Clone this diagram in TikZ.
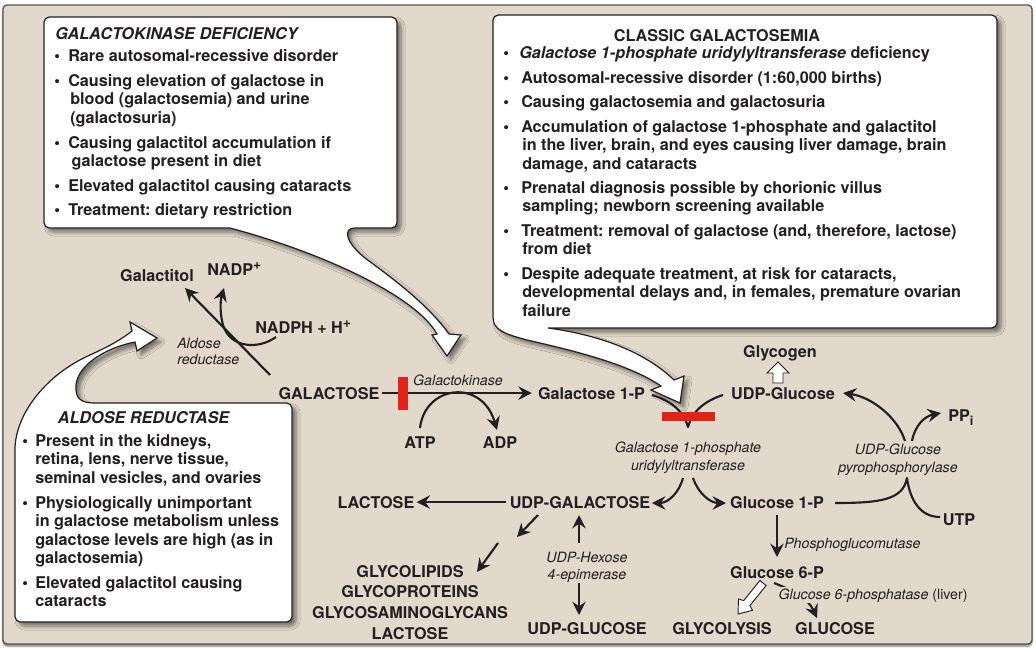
\documentclass[tikz,border=0pt]{standalone}
\usepackage{fontspec}
\setmainfont{TeX Gyre Heros}
\usetikzlibrary{arrows.meta,shadows.blur}
\definecolor{ink}{HTML}{231F20}
\definecolor{tanbg}{HTML}{E2D8CB}
\definecolor{redbar}{HTML}{E2231A}
\definecolor{framec}{HTML}{555555}
\frenchspacing
\newcommand{\bulit}[1]{\makebox[#1][l]{\textbullet}}
\newcommand{\supplus}{\raisebox{4.5pt}{\fontsize{10.5}{10.5}\selectfont +}}
\tikzset{
 lbl/.style={font=\bfseries\fontsize{12.15}{15.5}\selectfont, inner sep=0pt, text=ink, anchor=base},
 enz/.style={font=\itshape\fontsize{10.65}{13.5}\selectfont, inner sep=0pt, text=ink, align=center},
 arr/.style={draw=ink, line width=1.6pt, -{Stealth[length=10pt,width=10pt,inset=3.5pt]}},
 ln/.style={draw=ink, line width=1.6pt, line join=round},
 callout/.style={fill=white, draw=ink, line width=0.9pt,
   blur shadow={shadow xshift=3pt, shadow yshift=-3pt, shadow blur radius=3pt, shadow opacity=50}},
 boxtxt/.style={font=\bfseries\fontsize{12.15}{13.9}\selectfont, inner sep=0pt, text=ink, anchor=north west, align=left},
 boxtitle/.style={font=\bfseries\fontsize{12.15}{13.9}\selectfont, inner sep=0pt, text=ink, anchor=base},
 hollow/.style={fill=white, draw=ink, line width=0.7pt, line join=miter},
 blocker/.style={fill=redbar, draw=none},
}
\begin{document}
\begin{tikzpicture}[x=0.75pt,y=-0.75pt]
\useasboundingbox (0,0) rectangle (1036,651);
% frame
\path[fill=tanbg, draw=framec, line width=1pt, rounded corners=3pt,
  blur shadow={shadow xshift=0pt, shadow yshift=-1.5pt, shadow blur radius=1.5pt, shadow opacity=60}]
  (3,5) rectangle (1032,644);

% ---------- callouts ----------
% galactokinase deficiency
\path[callout, rounded corners=4pt] (230,228) -- (44,228) -- (44,17) -- (397,17) -- (397,228) -- (360,228)
  [sharp corners] .. controls (343,228) and (345,242) .. (365,258)
  .. controls (395,280) and (428,305) .. (449,334) -- (461,335) -- (447,356) -- (432,335) -- (437,334)
  .. controls (415,295) and (320,252) .. (230,228) -- cycle;
% classic galactosemia
\path[callout, rounded corners=4pt] (548,328) -- (997,328) -- (997,15) -- (493,15) -- (493,312)
  [sharp corners] .. controls (493,330) and (505,334) .. (527,340)
  .. controls (580,352) and (630,365) .. (661,386) -- (651,390) -- (680,403) -- (684,376) -- (674,380)
  .. controls (645,352) and (600,335) .. (548,328) -- cycle;
% aldose reductase
\path[callout, rounded corners=4pt] (95,403) -- (292,403) -- (292,622) -- (15,622) -- (15,455)
  [sharp corners] .. controls (15,415) and (45,375) .. (90,355)
  .. controls (105,348) and (118,342) .. (132,331) -- (130,322) -- (157,338) -- (137,351) -- (135,342)
  .. controls (105,348) and (78,365) .. (76,385) .. controls (75,398) and (80,403) .. (95,403) -- cycle;

% ---------- box texts ----------
\node[boxtitle, anchor=base west] (tltitle) at (55,39) {\itshape GALACTOKINASE DEFICIENCY};
\node[boxtxt] (tl1) at (54,49) {\bulit{10.5pt}Rare autosomal-recessive disorder};
\node[boxtxt] (tl2) at (54,74) {\bulit{10.5pt}Causing elevation of galactose in\\\hspace*{12pt}blood (galactosemia) and urine\\\hspace*{12pt}(galactosuria)};
\node[boxtxt] (tl3) at (54,136) {\bulit{10.5pt}Causing galactitol accumulation if\\\hspace*{13pt}galactose present in diet};
\node[boxtxt] (tl4) at (54,179) {\bulit{10.5pt}Elevated galactitol causing cataracts};
\node[boxtxt] (tl5) at (54,203) {\bulit{10.5pt}Treatment: dietary restriction};

\node[boxtitle] (trtitle) at (717,41) {CLASSIC GALACTOSEMIA};
\node[boxtxt] (tr1) at (503,46) {\bulit{12pt}\textit{Galactose 1-phosphate uridylyltransferase} deficiency};
\node[boxtxt] (tr2) at (503,71) {\bulit{13.5pt}Autosomal-recessive disorder (1:60,000 births)};
\node[boxtxt] (tr3) at (503,95) {\bulit{13.5pt}Causing galactosemia and galactosuria};
\node[boxtxt] (tr4) at (503,120) {\bulit{13.5pt}Accumulation of galactose 1-phosphate and galactitol\\\hspace*{14.25pt}in the liver, brain, and eyes causing liver damage, brain\\\hspace*{14.25pt}damage, and cataracts};
\node[boxtxt] (tr5) at (503,181) {\bulit{13.5pt}Prenatal diagnosis possible by chorionic villus\\\hspace*{14.25pt}sampling; newborn screening available};
\node[boxtxt] (tr6) at (503,224) {\bulit{13.5pt}Treatment: removal of galactose (and, therefore, lactose)\\\hspace*{14.25pt}from diet};
\node[boxtxt] (tr7) at (503,267) {\bulit{13.5pt}Despite adequate treatment, at risk for cataracts,\\\hspace*{14.25pt}developmental delays and, in females, premature ovarian\\\hspace*{14.25pt}failure};

\node[boxtitle] (altitle) at (143.5,423) {\itshape ALDOSE REDUCTASE};
\node[boxtxt] (al1) at (22,434) {\bulit{9.75pt}Present in the kidneys,\\\hspace*{9.75pt}retina, lens, nerve tissue,\\\hspace*{9.75pt}seminal vesicles, and ovaries};
\node[boxtxt] (al2) at (22,496) {\bulit{9.75pt}Physiologically unimportant\\\hspace*{9.75pt}in galactose metabolism unless\\\hspace*{9.75pt}galactose levels are high (as in\\\hspace*{9.75pt}galactosemia)};
\node[boxtxt] (al3) at (22,576) {\bulit{9.75pt}Elevated galactitol causing\\\hspace*{9.75pt}cataracts};

% ---------- pathway labels ----------
\node[lbl] (gal) at (329,399) {GALACTOSE};
\node[lbl] (g1p) at (591.5,399) {Galactose 1-P};
\node[lbl] (galtol) at (157,281) {Galactitol};
\node[lbl, anchor=base west] (nadp) at (207,275) {NADP\supplus};
\node[lbl, anchor=base west] (nadph) at (255,333) {NADPH + H\supplus};
\node[lbl] (atp) at (420,448) {ATP};
\node[lbl] (adp) at (500,448) {ADP};
\node[lbl] (glycogen) at (780,357) {Glycogen};
\node[lbl] (udpg) at (783,399) {UDP-Glucose};
\node[lbl, anchor=base west] (ppi) at (948,421) {PP\raisebox{-3pt}{\fontsize{9.5}{9.5}\selectfont i}};
\node[lbl] (utp) at (959,525) {UTP};
\node[lbl] (lac) at (376,508) {LACTOSE};
\node[lbl] (udpgal) at (580,508) {UDP-GALACTOSE};
\node[lbl] (glc1p) at (777,508) {Glucose 1-P};
\node[lbl] (glc6p) at (777,578) {Glucose 6-P};
\node[lbl] (udpglc2) at (587,634) {UDP-GLUCOSE};
\node[lbl] (glycolysis) at (722,634) {GLYCOLYSIS};
\node[lbl] (glucose) at (835,634) {GLUCOSE};
\node[lbl, anchor=north, align=center] (products) at (410,565) {GLYCOLIPIDS\\GLYCOPROTEINS\\GLYCOSAMINOGLYCANS\\LACTOSE};

% enzyme labels
\node[enz, font=\itshape\fontsize{10.65}{12}\selectfont, anchor=north west, align=left] (aldred) at (177,338) {Aldose\\reductase};
\node[enz, anchor=base] (galk) at (458,385) {Galactokinase};
\node[enz, anchor=north] (galt) at (688,442) {Galactose 1-phosphate\\uridylyltransferase};
\node[enz, anchor=north] (ugpp) at (898,444) {UDP-Glucose\\pyrophosphorylase};
\node[enz, font=\itshape\fontsize{10.65}{12.75}\selectfont, anchor=north] (epi) at (587,552) {UDP-Hexose\\4-epimerase};
\node[enz, anchor=base west] (pgm) at (784,548) {Phosphoglucomutase};

% ---------- connectors ----------
\coordinate (aldS) at (270,375);  \coordinate (aldT) at (185,288);
\coordinate (nadS) at (276,337);  \coordinate (nadT) at (224,288);
\coordinate (atpS) at (420,428);  \coordinate (adpT) at (497,430);
\coordinate (v) at (688,427);
\coordinate (g1pOut) at (652,395); \coordinate (udpgIn) at (723,395);
\coordinate (splitL) at (683,478); \coordinate (splitR) at (693,478);
\coordinate (udpgalIn) at (652,503); \coordinate (glc1pIn) at (726,503);
\coordinate (glc1pOut) at (835,503); \coordinate (pyJ) at (907,478); \coordinate (utpIn) at (940,517);
\coordinate (pyTopL) at (905,441); \coordinate (pyTopR) at (912,441);
\coordinate (udpgTip) at (843,393); \coordinate (ppiTip) at (941,413);
\coordinate (d1S) at (538,515); \coordinate (d1T) at (517,537);
\coordinate (d2S) at (498,543); \coordinate (d2T) at (477,572);
\coordinate (epiUpS) at (579,543); \coordinate (epiUpT) at (579,515);
\coordinate (epiDnS) at (579,583); \coordinate (epiDnT) at (579,615);
\coordinate (pgmS) at (777,515); \coordinate (pgmT) at (777,557);
\coordinate (g6pS) at (774,583); \coordinate (g6pT) at (817,618);

\draw[arr] (aldS) -- (aldT);
\draw[arr] (nadS) .. controls (258,350) and (230,348) .. (223,325) .. controls (219,310) and (221,298) .. (nadT);
\draw[arr] ([xshift=2pt]gal.east) -- ([xshift=-4.5pt]g1p.west);
\draw[arr] (atpS) .. controls (425,385) and (482,378) .. (adpT);
\draw[ln] (g1pOut) .. controls (672,401) and (684,412) .. (v) .. controls (692,412) and (704,401) .. (udpgIn);
\draw[arr] (splitL) .. controls (679,493) and (668,503) .. (udpgalIn);
\draw[arr] (splitR) .. controls (698,493) and (710,503) .. (glc1pIn);
\draw[arr] ([xshift=-3pt]udpgal.west) -- ([xshift=1.5pt]lac.east);
\draw[arr] (d1S) -- (d1T);
\draw[arr] (d2S) -- (d2T);
\draw[arr] (epiUpS) -- (epiUpT);
\draw[arr] (epiDnS) -- (epiDnT);
\draw[ln] (glc1pOut) .. controls (880,503) and (903,500) .. (pyJ) .. controls (910,500) and (920,517) .. (utpIn);
\draw[arr] (pyTopL) .. controls (898,418) and (872,397) .. (udpgTip);
\draw[arr] (pyTopR) .. controls (915,425) and (925,416) .. (ppiTip);
\draw[arr] (pgmS) -- (pgmT);
\draw[arr] (g6pS) .. controls (792,590) and (808,598) .. (g6pT);
\node[enz, anchor=base west, fill=tanbg, inner sep=1pt] (g6pase) at (777,599) {Glucose 6-phosphatase \upshape(liver)};

% hollow arrows
\path[hollow] (773,383) -- (773,373) -- (767,373) -- (778,362) -- (789,373) -- (783,373) -- (783,383) -- cycle;
\path[hollow] (766.1,585.5) -- (749.9,605.6) -- (752.5,610.3) -- (738,614) -- (738.5,599.0) -- (743.7,600.6) -- (759.9,580.5) -- cycle;

% blocks
\path[blocker] (398,377) rectangle (408,410);
\path[blocker] (662,412) rectangle (715,421);
\end{tikzpicture}
\end{document}
